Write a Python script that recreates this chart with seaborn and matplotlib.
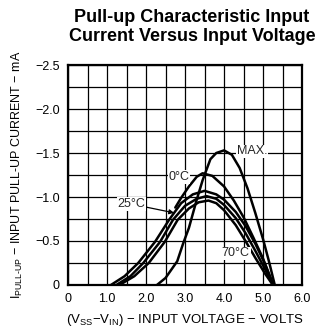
import matplotlib
matplotlib.use("Agg")
import matplotlib.pyplot as plt
import matplotlib.ticker as mticker
import seaborn as sns
import pandas as pd

# ---- data ----
max_x = [2.28, 2.5, 2.8, 2.95, 3.1, 3.3, 3.45, 3.65, 3.8, 4.0, 4.2, 4.4, 4.6, 4.8, 5.0, 5.15, 5.3]
max_y = [0.0, -0.08, -0.27, -0.47, -0.65, -0.97, -1.19, -1.43, -1.5, -1.53, -1.48, -1.33, -1.1, -0.82, -0.52, -0.27, 0.0]

c0_x = [2.75, 2.9, 3.1, 3.3, 3.45, 3.7, 4.0, 4.25, 4.5, 4.75, 5.0, 5.25]
c0_y = [-0.88, -0.99, -1.12, -1.23, -1.27, -1.24, -1.12, -0.96, -0.77, -0.54, -0.3, 0.0]

a_x = [1.1, 1.45, 1.8, 2.23, 2.59, 2.9, 3.2, 3.5, 3.8, 4.0, 4.3, 4.55, 4.8, 5.05, 5.27]
a_y = [0.0, -0.1, -0.25, -0.49, -0.74, -0.93, -1.03, -1.07, -1.03, -0.97, -0.83, -0.67, -0.47, -0.24, 0.0]

b_x = [1.24, 1.6, 1.93, 2.36, 2.69, 3.0, 3.3, 3.55, 3.8, 4.0, 4.3, 4.55, 4.8, 5.05, 5.26]
b_y = [0.0, -0.1, -0.25, -0.49, -0.74, -0.9, -0.98, -1.01, -0.98, -0.91, -0.76, -0.59, -0.39, -0.18, 0.0]

c_x = [1.32, 1.7, 2.07, 2.48, 2.81, 3.1, 3.35, 3.6, 3.8, 4.0, 4.3, 4.55, 4.8, 5.05, 5.25]
c_y = [0.0, -0.1, -0.25, -0.49, -0.74, -0.87, -0.94, -0.96, -0.93, -0.85, -0.68, -0.5, -0.31, -0.13, 0.0]

x_ticks = [0, 1, 2, 3, 4, 5, 6]
x_tick_labels = ["0", "1.0", "2.0", "3.0", "4.0", "5.0", "6.0"]
y_ticks = [0, -0.5, -1.0, -1.5, -2.0, -2.5]
y_tick_labels = ["0", "\u22120.5", "\u22121.0", "\u22121.5", "\u22122.0", "\u22122.5"]

title = "Pull-up Characteristic Input\nCurrent Versus Input Voltage"
xlabel = "(V$_{\\mathrm{SS}}$\u2212V$_{\\mathrm{IN}}$) \u2212 INPUT VOLTAGE \u2212 VOLTS"
ylabel = "I$_{\\mathrm{PULL\\text{-}UP}}$ \u2212 INPUT PULL-UP CURRENT \u2212 mA"

# ---- build table ----
rows = []
for name, xs, ys in [("MAX", max_x, max_y), ("0C", c0_x, c0_y), ("A", a_x, a_y),
                     ("B", b_x, b_y), ("C", c_x, c_y)]:
    for i, (xv, yv) in enumerate(zip(xs, ys)):
        rows.append({"curve": name, "order": i, "v": xv, "i": yv})
df = pd.DataFrame(rows)

sns.set_theme(style="white")
plt.rcParams["font.family"] = ["Liberation Sans", "DejaVu Sans"]
plt.rcParams["mathtext.fontset"] = "custom"
plt.rcParams["mathtext.rm"] = "Liberation Sans"
plt.rcParams["mathtext.it"] = "Liberation Sans"

fig = plt.figure(figsize=(3.2, 3.32), dpi=100)
ax = fig.add_axes([0.2125, 0.1416, 0.7315, 0.6625])

sns.lineplot(data=df, x="v", y="i", hue="curve", units="curve", estimator=None,
             sort=False, palette=["black"] * 5, linewidth=1.8, legend=False, ax=ax)

ax.set_xlim(0, 6)
ax.set_ylim(0, -2.5)
ax.xaxis.set_major_locator(mticker.FixedLocator(x_ticks))
ax.xaxis.set_major_formatter(mticker.FixedFormatter(x_tick_labels))
ax.xaxis.set_minor_locator(mticker.MultipleLocator(0.5))
ax.yaxis.set_major_locator(mticker.FixedLocator(y_ticks))
ax.yaxis.set_major_formatter(mticker.FixedFormatter(y_tick_labels))
ax.yaxis.set_minor_locator(mticker.MultipleLocator(0.25))
ax.grid(True, which="both", color="black", linewidth=0.9)
ax.set_axisbelow(True)
ax.tick_params(which="both", length=0, labelsize=9, colors="black")
ax.tick_params(axis="x", pad=6)
ax.tick_params(axis="y", pad=6)
for s in ax.spines.values():
    s.set_color("black")
    s.set_linewidth(1.6)

ax.set_xlabel(xlabel, fontsize=9.5, color="black", labelpad=5)
ax.set_ylabel(ylabel, fontsize=9, color="black", labelpad=7)

bbox = dict(facecolor="white", edgecolor="none", pad=0.5)
ax.text(4.72, -1.52, "MAX.", fontsize=9, ha="center", va="center", bbox=bbox)
ax.text(2.85, -1.23, "0\u00b0C", fontsize=9, ha="center", va="center", bbox=bbox)
ax.text(4.3, -0.36, "70\u00b0C", fontsize=9, ha="center", va="center", bbox=bbox)
ax.annotate("25\u00b0C", xy=(2.72, -0.82), xytext=(1.62, -0.92), fontsize=9,
            ha="center", va="center", bbox=bbox,
            arrowprops=dict(arrowstyle="-|>", color="black", lw=0.9,
                            mutation_scale=7, shrinkA=0, shrinkB=0))

fig.text(0.6, 0.92, title, fontsize=13, fontweight="bold", ha="center",
         va="center", linespacing=1.15, color="black")

fig.savefig("out.png", dpi=100)
